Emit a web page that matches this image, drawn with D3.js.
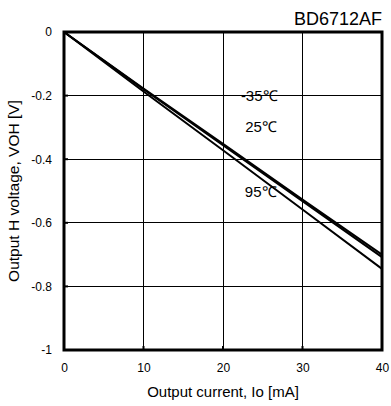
<!DOCTYPE html>
<html><head><meta charset="utf-8">
<script src="https://cdn.jsdelivr.net/npm/d3@7"></script>
<style>body{margin:0;background:#fff}text{font-family:"Liberation Sans",Arial,sans-serif;fill:#000}</style>
</head><body>
<svg id="c" width="391" height="406"></svg>
<script>
const current = [0, 10, 20, 30, 40];
const vohM35 = [0, -0.178, -0.352, -0.527, -0.700];
const voh25 = [0, -0.180, -0.356, -0.532, -0.708];
const voh95 = [0, -0.187, -0.372, -0.558, -0.745];
const seriesNames = ["-35℃", "25℃", "95℃"];
const xTicks = [0, 10, 20, 30, 40];
const yTicks = [0, -0.2, -0.4, -0.6, -0.8, -1];
const yTickLabels = ["0", "-0.2", "-0.4", "-0.6", "-0.8", "-1"];

const svg = d3.select("#c");
const L = 64, R = 382, T = 32, B = 350;
const x = d3.scaleLinear().domain([0, 40]).range([L, R]);
const y = d3.scaleLinear().domain([0, -1]).range([T, B]);

// grid
svg.append("g").selectAll("line").data(xTicks.slice(1, -1)).join("line")
  .attr("x1", d => x(d)).attr("x2", d => x(d)).attr("y1", T).attr("y2", B)
  .attr("stroke", "#000").attr("stroke-width", 1).attr("shape-rendering", "crispEdges");
svg.append("g").selectAll("line").data(yTicks.slice(1, -1)).join("line")
  .attr("y1", d => y(d)).attr("y2", d => y(d)).attr("x1", L).attr("x2", R)
  .attr("stroke", "#000").attr("stroke-width", 1).attr("shape-rendering", "crispEdges");

// axes labels via d3 axes
const xAxis = svg.append("g").attr("transform", `translate(0,${B})`)
  .call(d3.axisBottom(x).tickValues(xTicks).tickSize(0).tickPadding(13).tickFormat(d3.format("d")));
xAxis.select(".domain").remove();
xAxis.selectAll("text").style("font-size", "12px").style("font-family", '"Liberation Sans",Arial,sans-serif');
const yAxis = svg.append("g").attr("transform", `translate(${L},0)`)
  .call(d3.axisLeft(y).tickValues(yTicks).tickSize(0).tickPadding(12).tickFormat((d, i) => yTickLabels[i]));
yAxis.select(".domain").remove();
yAxis.selectAll("text").style("font-size", "12px").style("font-family", '"Liberation Sans",Arial,sans-serif');

// small ticks at frame
svg.append("g").selectAll("line").data(xTicks.slice(1, -1)).join("line")
  .attr("x1", d => x(d)).attr("x2", d => x(d)).attr("y1", B - 4).attr("y2", B)
  .attr("stroke", "#000").attr("stroke-width", 2);
svg.append("g").selectAll("line").data(yTicks.slice(1, -1)).join("line")
  .attr("y1", d => y(d)).attr("y2", d => y(d)).attr("x1", L).attr("x2", L + 4)
  .attr("stroke", "#000").attr("stroke-width", 2);

// data lines
const line = d3.line().x((d, i) => x(current[i])).y(d => y(d));
[vohM35, voh25, voh95].forEach(s => {
  svg.append("path").datum(s).attr("d", line).attr("fill", "none")
    .attr("stroke", "#000").attr("stroke-width", 2);
});

// frame
svg.append("rect").attr("x", L).attr("y", T).attr("width", R - L).attr("height", B - T)
  .attr("fill", "none").attr("stroke", "#000").attr("stroke-width", 3);

// series labels
const labelPos = [[22.25, -0.2], [22.8, -0.3], [22.75, -0.503]];
seriesNames.forEach((n, i) => {
  svg.append("text").attr("x", x(labelPos[i][0])).attr("y", y(labelPos[i][1]) + 5)
    .attr("font-size", "15px").text(n);
});

// title
svg.append("text").attr("x", R).attr("y", 25).attr("text-anchor", "end")
  .attr("font-size", "18px").text("BD6712AF");
// axis titles
svg.append("text").attr("x", (L + R) / 2).attr("y", 397).attr("text-anchor", "middle")
  .attr("font-size", "15px").text("Output current, Io [mA]");
svg.append("text").attr("transform", `translate(19,${(T + B) / 2}) rotate(-90)`)
  .attr("text-anchor", "middle").attr("font-size", "15.5px").text("Output H voltage, VOH [V]");
</script>
</body></html>
